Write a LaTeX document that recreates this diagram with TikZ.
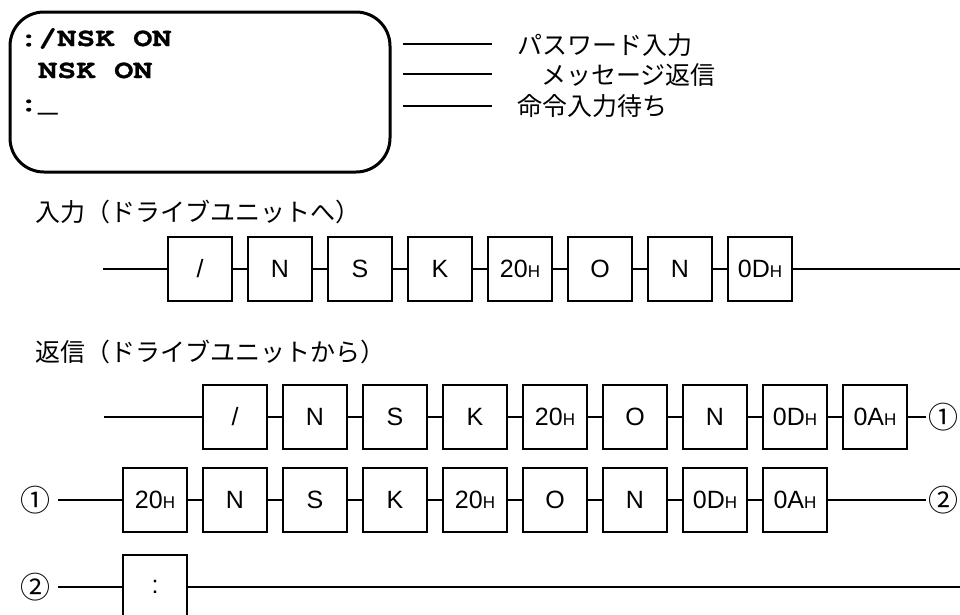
\documentclass[tikz,border=0pt]{standalone}
\usepackage{fontspec}
\usepackage{tikz}
\usetikzlibrary{positioning}
\setmainfont{Liberation Sans}
\newfontfamily\jpfont{Noto Sans CJK JP}
\newfontfamily\termfont[FakeStretch=1.22, FakeBold=1]{TeX Gyre Cursor}
\newcommand{\hx}[1]{#1{\fontsize{17pt}{17pt}\selectfont H}}
\tikzstyle{screen}  = [rectangle, rounded corners=34pt, draw=black,
                       line width=3pt, minimum width=380pt,
                       minimum height=160pt]
\tikzstyle{term}    = [anchor=base west, inner sep=0pt,
                       font=\termfont\bfseries\fontsize{26pt}{26pt}\selectfont]
\tikzstyle{note}    = [anchor=base west, inner sep=0pt,
                       font=\jpfont\fontsize{25pt}{25pt}\selectfont]
\tikzstyle{tick}    = [line width=1.3pt]
\tikzstyle{cell}    = [rectangle, draw=black, fill=white, line width=2.4pt,
                       minimum width=64pt, minimum height=64pt,
                       inner sep=0pt, outer sep=0pt,
                       font=\fontsize{25pt}{25pt}\selectfont]
\tikzstyle{link}    = [line width=2.4pt]
\tikzstyle{circnum} = [inner sep=8pt, font=\jpfont\fontsize{30pt}{30pt}\selectfont]
\begin{document}
\begin{tikzpicture}[x=1pt, y=-1pt, node distance=16pt]
  \useasboundingbox (0,0) rectangle (960,614);

  % terminal screen
  \node[screen] (scr) at (200,92) {};
  \node[term] (t1) at (19,46)  {:/NSK ON};
  \node[term] (t2) at (19,78)  {\phantom{:}NSK ON};
  \node[term] (t3) at (19,111) {:\_};

  % notes on the right
  \node[note] (pw)  at (517,54)  {パスワード入力};
  \node[note] (msg) at (541,84)  {メッセージ返信};
  \node[note] (cmd) at (517,115) {命令入力待ち};
  \coordinate (pw0)  at (403,44);  \coordinate (pw1)  at (492,44);
  \coordinate (msg0) at (403,74);  \coordinate (msg1) at (492,74);
  \coordinate (cmd0) at (403,106); \coordinate (cmd1) at (492,106);
  \draw[tick] (pw0)  -- (pw1);
  \draw[tick] (msg0) -- (msg1);
  \draw[tick] (cmd0) -- (cmd1);

  % input (to drive unit)
  \node[note] (inhd) at (35,221) {入力（ドライブユニットへ）};
  \coordinate (a0) at (103,269);
  \node[cell] (a1) at (200,269)   {/};
  \node[cell, right=of a1] (a2) {N};
  \node[cell, right=of a2] (a3) {S};
  \node[cell, right=of a3] (a4) {K};
  \node[cell, right=of a4] (a5) {\hx{20}};
  \node[cell, right=of a5] (a6) {O};
  \node[cell, right=of a6] (a7) {N};
  \node[cell, right=of a7] (a8) {\hx{0D}};
  \coordinate (a9) at (960,269);
  \draw[link] (a0) -- (a1) -- (a2) -- (a3) -- (a4) -- (a5) -- (a6)
                   -- (a7) -- (a8) -- (a9);

  % reply (from drive unit)
  \node[note] (rehd) at (35,361) {返信（ドライブユニットから）};
  \coordinate (b0) at (104,417);
  \node[cell] (b1) at (235,417)   {/};
  \node[cell, right=of b1] (b2) {N};
  \node[cell, right=of b2] (b3) {S};
  \node[cell, right=of b3] (b4) {K};
  \node[cell, right=of b4] (b5) {\hx{20}};
  \node[cell, right=of b5] (b6) {O};
  \node[cell, right=of b6] (b7) {N};
  \node[cell, right=of b7] (b8) {\hx{0D}};
  \node[cell, right=of b8] (b9) {\hx{0A}};
  \node[circnum, inner sep=2pt] (n1r) at (943,417) {①};
  \draw[link] (b0) -- (b1) -- (b2) -- (b3) -- (b4) -- (b5) -- (b6)
                   -- (b7) -- (b8) -- (b9) -- (n1r);

  \node[circnum] (n1l) at (35,500) {①};
  \node[cell] (c1) at (155,500)   {\hx{20}};
  \node[cell, right=of c1] (c2) {N};
  \node[cell, right=of c2] (c3) {S};
  \node[cell, right=of c3] (c4) {K};
  \node[cell, right=of c4] (c5) {\hx{20}};
  \node[cell, right=of c5] (c6) {O};
  \node[cell, right=of c6] (c7) {N};
  \node[cell, right=of c7] (c8) {\hx{0D}};
  \node[cell, right=of c8] (c9) {\hx{0A}};
  \node[circnum, inner sep=2pt] (n2r) at (943,500) {②};
  \draw[link] (n1l) -- (c1) -- (c2) -- (c3) -- (c4) -- (c5) -- (c6)
                    -- (c7) -- (c8) -- (c9) -- (n2r);

  \node[circnum] (n2l) at (35,587) {②};
  \node[cell] (d1) at (155,587)   {:};
  \coordinate (d9) at (960,587);
  \draw[link] (n2l) -- (d1) -- (d9);
\end{tikzpicture}
\end{document}
